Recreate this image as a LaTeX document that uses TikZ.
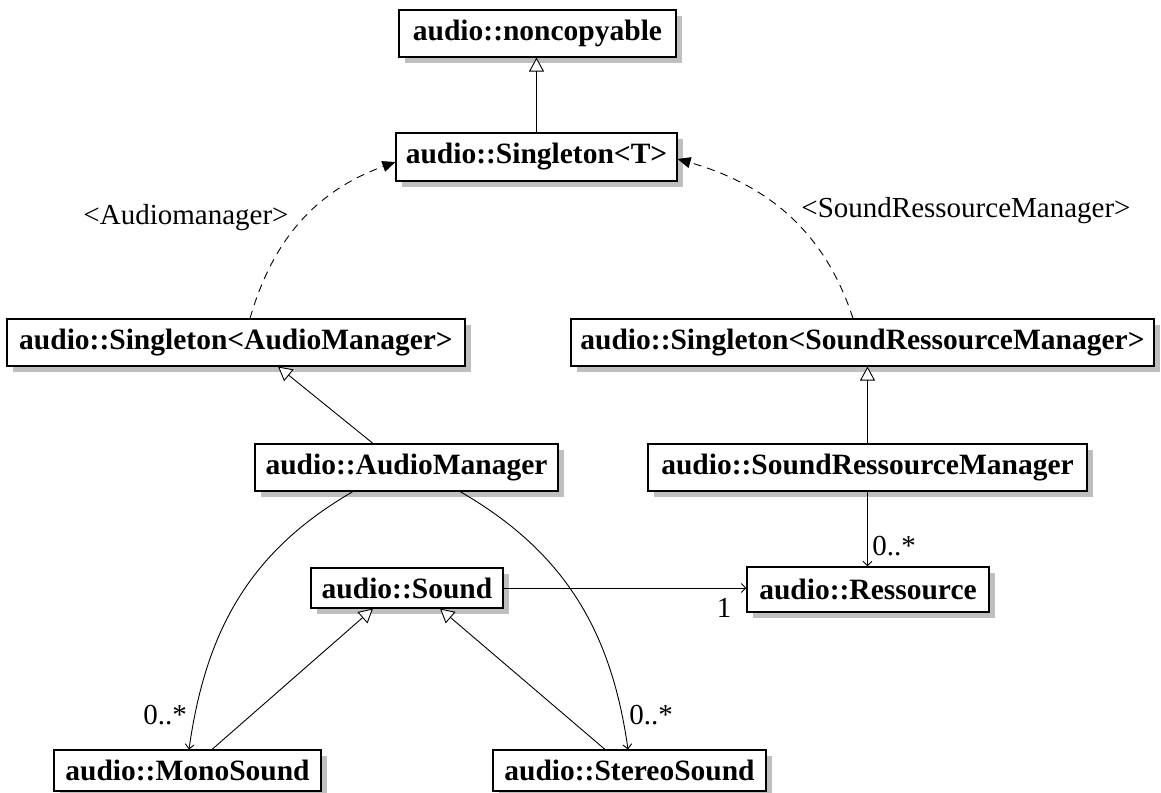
\documentclass[tikz,border=0pt]{standalone}
\usepackage{fontspec}
\setmainfont{Liberation Serif}
\usetikzlibrary{arrows.meta,shadows}
\begin{document}
\begin{tikzpicture}[x=1pt,y=1pt,
  umlbox/.style={draw=black, line width=1.1pt, fill=white, inner sep=0pt, minimum height=47pt,
     font=\fontsize{29.5}{34}\selectfont\bfseries,
     drop shadow={shadow xshift=6pt, shadow yshift=-6pt, fill=black!25, opacity=1}},
  lbl/.style={inner sep=0pt, font=\fontsize{29}{33}\selectfont},
  gen/.style={line width=0.9pt, -{Triangle[open, length=14pt, width=15pt, fill=white]}},
  dep/.style={line width=0.9pt, dash pattern=on 8pt off 6pt, -{Triangle[length=13pt, width=11pt]}},
  assoc/.style={line width=0.9pt, -{Straight Barb[length=4.5pt, width=9pt]}}]
\useasboundingbox (0,0) rectangle (1161,792);
\node[umlbox, minimum width=277pt] (nc) at (537.5,758.5) {audio::noncopyable};
\node[umlbox, minimum width=281pt, minimum height=48pt] (st) at (536.5,635) {audio::Singleton\textless T\textgreater};
\node[umlbox, minimum width=458pt] (sam) at (236,449.5) {audio::Singleton\textless AudioManager\textgreater};
\node[umlbox, minimum width=583pt] (ssrm) at (862.5,449.5) {audio::Singleton\textless SoundRessourceManager\textgreater};
\node[umlbox, minimum width=303pt] (am) at (406.5,324.5) {audio::AudioManager};
\node[umlbox, minimum width=439pt] (srm) at (867.5,324.5) {audio::SoundRessourceManager};
\node[umlbox, minimum width=192pt, minimum height=40pt] (snd) at (407,204) {audio::Sound};
\node[umlbox, minimum width=242pt, minimum height=45pt] (res) at (868,202.5) {audio::Ressource};
\node[umlbox, minimum width=267pt, minimum height=41pt] (mono) at (187.5,21.5) {audio::MonoSound};
\node[umlbox, minimum width=273pt, minimum height=41pt] (stereo) at (629.5,21.5) {audio::StereoSound};

\draw[gen] (st.north) -- (st.north |- nc.south);
\draw[dep] ([xshift=14pt]sam.north) to[out=74,in=200] ([yshift=-5pt]st.west);
\draw[dep] ([xshift=-9.5pt]ssrm.north) to[out=108,in=-16] ([yshift=-2pt]st.east);
\draw[gen] ([xshift=-33.5pt]am.north) -- ([xshift=42pt]sam.south);
\draw[gen] (srm.north) -- (srm.north |- ssrm.south);
\draw[assoc] (srm.south) -- (srm.south |- res.north);
\draw[assoc] (snd.east) -- (snd.east -| res.west);
\draw[assoc] ([xshift=-53.5pt]am.south) to[out=210,in=82] ([xshift=1.5pt]mono.north);
\draw[assoc] ([xshift=53.5pt]am.south) to[out=-30,in=98] ([xshift=-1.5pt]stereo.north);
\draw[gen] ([xshift=24.5pt]mono.north) -- ([xshift=-34pt]snd.south);
\draw[gen] ([xshift=-24.5pt]stereo.north) -- ([xshift=33pt]snd.south);

\node[lbl] (lam) at (186,574) {\textless Audiomanager\textgreater};
\node[lbl] (lsrm) at (966,581) {\textless SoundRessourceManager\textgreater};
\node[lbl] (m1) at (894,246) {0..*};
\node[lbl] (m2) at (724,184) {1};
\node[lbl] (m3) at (165,77) {0..*};
\node[lbl] (m4) at (651,77) {0..*};
\end{tikzpicture}
\end{document}
